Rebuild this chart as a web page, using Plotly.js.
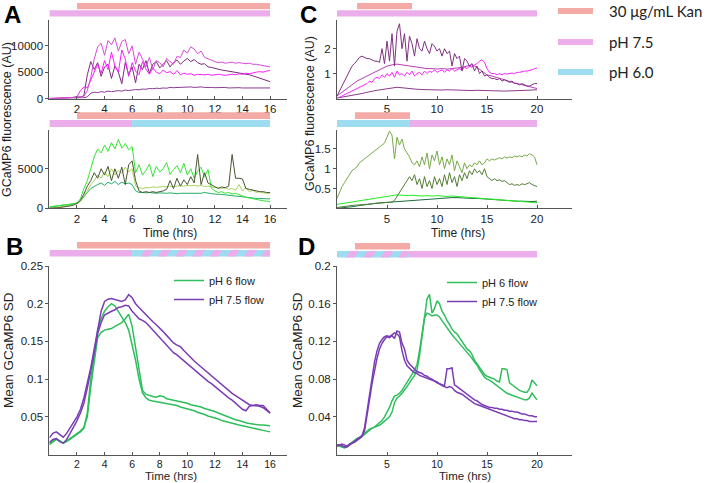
<!DOCTYPE html>
<html><head><meta charset="utf-8">
<script src="https://cdn.plot.ly/plotly-3.0.1.min.js"></script>
<style>html,body{margin:0;padding:0;background:#fff}#chart{width:708px;height:483px}</style>
</head><body><div id="chart"></div>
<script>
function seq(start, step, n){ return Array.from({length:n}, (_, i) => +(start + i*step).toFixed(3)); }

// ---------- time axes (hrs) ----------
const tA  = seq(0, 0.25, 65);   // 0..16
const tB  = seq(0, 0.25, 65);   // 0..16
const tC4 = seq(0, 0.25, 81);   // 0..20
const tC2 = seq(0, 0.5, 41);    // 0..20
const tD  = seq(0, 0.25, 81);   // 0..20

// ---------- tick labels ----------
const xTicksA = [2,4,6,8,10,12,14,16];
const xTicksC = [5,10,15,20];
const yTicksATop = [0,5000,10000];
const yTicksABot = [0,5000];
const yTicksB = [0.05,0.1,0.15,0.2,0.25];
const yTicksCTop = [1,2];
const yTicksCBot = [0.5,1,1.5];
const yTicksD = [0.04,0.08,0.12,0.16,0.2];

// ---------- treatment intervals (hrs) ----------
const kanATop = [2,16], ph75ATop = [0,16];
const kanABot = [2,16], ph75ABot = [0,6], ph6ABot = [6,16];
const kanB = [2,16], ph75B = [0,6], altB = [6,16];
const kanCTop = [2,7.5], ph75CTop = [0,20];
const kanCBot = [1.8,7.3], ph6CBot = [0,7.3], ph75CBot = [7.3,20];
const kanD = [1.8,7.3], altD = [0,7.3], ph75D = [7.3,20];

// ---------- legend labels ----------
const keyLabels = ['30 μg/mL Kan', 'pH 7.5', 'pH 6.0'];
const seriesNames = ['pH 6 flow', 'pH 7.5 flow'];

// ---------- A top: pH 7.5 fluorescence (AU) ----------
const aTopM1 = [0,0,0,50,80,100,150,200,250,300,400,
 1500,4000,7500,9800,10500,8200,11000,10200,11500,9000,10800,11200,8500,10000,6500,8800,7500,6000,7800,5500,7200,6800,6000,7600,7000,6500,8000,7800,9200,8600,9800,9400,8500,9000,7800,7600,7300,7000,
 6800,6900,6700,6800,6900,6700,6800,6700,6600,6700,6500,6500,6400,6300,6200,6000];
const aTopM2 = [0,0,0,0,50,100,150,200,300,
 1500,2200,2000,3500,5200,6500,4800,7200,5500,8800,6200,5000,9200,7500,4200,6800,5200,4500,7000,5600,4600,5800,5000,4700,5400,4900,5100,4600,5300,4500,4800,4600,4700,4400,4600,4500,
 4500,4600,4400,4500,4600,4500,4400,4500,4600,4500,4700,4600,4800,4700,4900,5000,5100,5000,5200,5300];
const aTopP1 = [0,0,0,0,50,100,150,200,250,300,500,
 4500,7000,5500,6800,4200,6000,6500,3800,6200,5000,2800,6800,4500,6000,3000,6500,5500,7200,4800,6500,7000,5800,6600,7200,6000,6800,7300,6500,7100,7600,7000,7400,6800,6500,6600,6000,5900,5700,
 5500,5400,5300,5200,5100,5000,4900,4800,4700,4500,4300,4100,3900,3700,3400,3200];
const aTopP2 = [0,0,0,0,0,20,40,60,80,100,150,300,
 1000,1200,1100,1300,1200,1400,1300,1400,1500,1400,1600,1500,1600,
 1700,1650,1800,1750,1900,1850,1950,1900,2000,1950,2100,2050,2100,2150,2200,2150,2200,2100,2150,2200,2100,2150,2100,2050,2100,2050,2100,2000,2050,2000,2050,2000,2050,2000,2000,1950,2000,2000,1950,2000];

// ---------- A bottom: pH 6 fluorescence (AU) ----------
const aBotG1 = [200,250,300,350,400,450,500,550,700,
 1200,2500,3500,5000,6500,7500,7000,8000,7200,8300,7500,8700,7600,8200,7400,7800,
 4500,5500,4200,4800,5600,4000,5300,4600,5000,5800,4300,4900,5400,4500,5700,4200,5000,3800,4700,5200,4000,4900,2500,2200,2000,2100,1900,2000,1800,1900,1700,1600,
 1400,1300,1200,1100,1000,950,900,850];
const aBotG2 = [0,50,100,150,200,300,400,500,600,900,
 1500,2200,3000,3500,4200,3800,4600,4000,5000,4200,4800,4400,5200,4600,5000,
 2800,2600,2500,2600,
 2600,2700,2650,2700,2750,2700,2800,2750,2800,2850,2800,2900,2850,2900,2800,2900,2750,2800,2700,2600,2650,2500,2600,2400,2500,2300,3000,2200,2600,2100,2300,2000,2100,1950,1900,1900];
const aBotG3 = [0,0,50,100,150,200,300,400,600,1000,1800,
 2800,3500,4500,3800,5000,4200,5300,3500,5000,3800,5200,3000,5500,6000,
 3500,2200,2000,2100,2000,2100,2000,2100,2200,2400,3500,2500,3800,2800,3600,3000,4000,3200,6800,3000,4500,3200,3000,2800,2500,2700,2600,2800,6800,3800,3800,3700,2500,2400,2300,2200,2100,2100,2000,2000];
const aBotG4 = [100,200,300,350,400,450,500,550,650,900,
 1500,2000,2500,2800,3000,3200,2900,3300,3100,3400,3000,3300,3100,3200,3000,2200,
 2000,2000,1950,2000,1950,1900,1950,1900,1900,1950,1900,1850,1900,1900,1850,1900,1850,1900,1900,2000,1900,1850,1800,1800,1750,1700,1650,1600,1500,1450,1400,1350,1300,1300,1250,1250,1200,1200,1200];

// ---------- B: mean GCaMP6 SD ----------
const bGreen1 = [0.013,0.016,0.020,0.018, 0.015,0.017,0.020,0.023, 0.027,0.030,0.035,0.055, 0.100,0.135,0.165,0.180,
 0.190,0.196,0.200,0.197, 0.190,0.183,0.175,0.165, 0.145,0.125,0.100,0.082, 0.075,0.072,0.071,0.070,
 0.070,0.069,0.068,0.067, 0.066,0.065,0.063,0.062, 0.060,0.059,0.058,0.056, 0.055,0.053,0.051,0.050,
 0.048,0.047,0.045,0.044, 0.042,0.041,0.040,0.039, 0.038,0.037,0.036,0.035, 0.035,0.034,0.032,0.031, 0.030];
const bGreen2 = [0.015,0.018,0.021,0.018, 0.015,0.018,0.021,0.024, 0.028,0.031,0.036,0.050, 0.090,0.125,0.155,0.162,
 0.165,0.166,0.167,0.170, 0.172,0.175,0.180,0.186, 0.170,0.140,0.110,0.085, 0.080,0.078,0.077,0.076,
 0.078,0.077,0.074,0.073, 0.072,0.071,0.070,0.069, 0.068,0.066,0.065,0.064, 0.063,0.061,0.060,0.059,
 0.057,0.055,0.053,0.052, 0.050,0.048,0.046,0.045, 0.043,0.042,0.041,0.040, 0.040,0.039,0.039,0.038, 0.038];
const bPurple1 = [0.022,0.028,0.030,0.026, 0.023,0.028,0.035,0.042, 0.050,0.060,0.075,0.095, 0.115,0.140,0.165,0.190,
 0.203,0.206,0.207,0.206, 0.205,0.203,0.205,0.212, 0.208,0.200,0.195,0.190, 0.185,0.180,0.176,0.172,
 0.168,0.163,0.158,0.153, 0.148,0.145,0.143,0.138, 0.133,0.128,0.124,0.120, 0.116,0.113,0.108,0.104,
 0.100,0.096,0.092,0.088, 0.085,0.081,0.078,0.075, 0.072,0.068,0.066,0.065, 0.065,0.064,0.062,0.058, 0.055];
const bPurple2 = [0.016,0.020,0.021,0.017, 0.015,0.020,0.028,0.036, 0.045,0.055,0.068,0.088, 0.110,0.135,0.160,0.175,
 0.185,0.188,0.190,0.192, 0.195,0.196,0.198,0.197, 0.190,0.185,0.180,0.178, 0.175,0.170,0.165,0.160,
 0.155,0.150,0.146,0.140, 0.135,0.132,0.128,0.124, 0.120,0.116,0.112,0.108, 0.105,0.101,0.097,0.094,
 0.090,0.086,0.082,0.079, 0.075,0.072,0.068,0.064, 0.060,0.058,0.064,0.065, 0.066,0.065,0.065,0.060, 0.055];

// ---------- C top: pH 7.5 fluorescence (AU) ----------
const cTopP1 = [0.1,0.3,0.5,0.7, 0.9,1.1,1.3,1.4, 1.55,1.65,1.7,1.65, 1.6,1.6,1.55,1.5, 1.5,1.45,2.0,1.4,
 2.3,1.5,2.6,1.3, 2.7,3.0,2.0,2.6, 1.5,2.5,2.2,1.7, 2.4,2.0,1.9,2.3, 2.0,1.8,2.2,2.1, 1.9,2.0,1.7,2.0,
 1.8,1.9,1.3,1.8, 1.6,1.7,1.1,1.6, 1.5,1.3,1.4,1.1, 1.3,1.0,1.1,0.9, 0.95,0.85,0.8,0.8, 0.75,0.8,0.7,0.75,
 0.7,0.65,0.7,0.6, 0.6,0.55,0.6,0.55, 0.5,0.5,0.55,0.6, 0.6];
const cTopM = [0.0,0.05,0.1,0.15,0.2, 0.25,0.3,0.35,0.4, 0.45,0.5,0.55,0.6, 0.7,0.65,0.8,0.85, 0.8,0.95,0.85,1.0,
 0.9,1.05,0.85,1.1, 0.95,1.0,0.9,1.05, 0.95,1.1,0.9,1.0, 1.05,0.95,1.1,1.0, 1.1,1.05,1.15,1.05,
 1.1,1.15,1.05,1.15, 1.1,1.2,1.1,1.15, 1.2,1.15,1.25,1.2, 1.3,1.25,1.35,1.4, 1.5,1.55,1.45,1.2,
 1.05,1.0,1.0,0.95, 1.0,0.95,1.0,0.98, 1.0,1.02,1.0,1.05, 1.05,1.08,1.1,1.1, 1.12,1.15,1.2,1.22];
const cTopP2 = [0.1,0.25,0.4,0.55,0.7,0.8,0.9,1.0,1.1,1.2,1.3,1.35,1.38,1.35,1.32,1.3,1.25,1.22,1.2,1.2,
 1.18,1.2,1.18,1.2,1.22,1.25,1.3,1.35,1.25,1.1,0.95,0.9,0.85,0.8,0.72,0.65,0.6,0.55,0.5,0.45,0.4];
const cTopL = [0.02,0.05,0.08,0.12,0.15,0.2,0.25,0.3,0.33,0.36,0.4,0.42,0.45,0.43,0.4,0.38,0.37,0.36,0.35,0.36,
 0.35,0.34,0.35,0.34,0.33,0.34,0.33,0.32,0.33,0.32,0.32,0.31,0.3,0.3,0.3,0.3,0.31,0.32,0.33,0.34,0.35];

// ---------- C bottom: pH 6 fluorescence (AU) ----------
const cBotG1 = [0.25,0.4,0.55,0.65, 0.75,0.85,0.95,1.0, 1.05,1.15,1.2,1.25, 1.3,1.35,1.4,1.45, 1.5,1.55,1.6,1.65,
 1.8,1.95,1.85,1.25, 1.8,1.6,1.75,1.5, 1.4,1.3,1.15,1.1, 1.2,1.05,1.3,1.1, 1.4,1.0,1.35,1.2, 1.45,1.1,1.3,1.0,
 1.25,1.1,1.35,0.95, 1.2,1.05,0.9,1.15, 1.0,1.1,1.05,1.15, 1.1,1.2,1.1,1.15, 1.25,1.2,1.25,1.22,
 1.25,1.28,1.25,1.3, 1.27,1.3,1.28,1.32, 1.3,1.33,1.3,1.35, 1.32,1.38,1.35,1.3, 1.1];
const cBotG2 = [0.02,0.03,0.04,0.05,0.05,0.06,0.07,0.08,0.08,0.09,0.1,0.1,0.1,0.11,0.12,0.12,0.13,0.13,0.14,0.14,0.15,
 0.15,0.16,0.2, 0.3,0.4,0.5,0.62, 0.72,0.8,0.7,0.85, 0.6,0.75,0.5,0.8, 0.55,0.7,0.5,0.8, 0.6,0.75,0.55,0.85,
 0.6,0.9,0.65,0.8, 0.55,0.85,0.7,0.9, 0.75,0.95,0.85,1.0, 0.9,0.95,0.85,1.0, 0.8,0.75,0.7,0.75,
 0.7,0.72,0.68,0.7, 0.65,0.6,0.62,0.58, 0.6,0.58,0.62,0.6, 0.62,0.65,0.6,0.58, 0.55];
const cBotG3 = [0.1,0.12,0.14,0.16,0.18,0.2,0.22,0.24,0.26,0.28,0.3,0.32,0.34,0.33,0.32,0.33,0.32,0.31,0.32,0.31,
 0.32,0.31,0.3,0.31,0.3,0.28,0.27,0.26,0.26,0.25,0.24,0.23,0.22,0.21,0.2,0.19,0.18,0.17,0.16,0.15,0.14];
const cBotG4 = [0.0,0.01,0.02,0.04,0.06,0.08,0.1,0.12,0.13,0.14,0.15,0.16,0.17,0.18,0.19,0.2,0.21,0.22,0.23,0.24,
 0.25,0.26,0.26,0.27,0.27,0.26,0.26,0.25,0.25,0.24,0.23,0.22,0.21,0.2,0.2,0.19,0.18,0.18,0.17,0.17,0.18];

// ---------- D: mean GCaMP6 SD ----------
const dGreen1 = [0.010,0.010,0.009,0.008, 0.009,0.011,0.013,0.015, 0.017,0.018,0.020,0.022, 0.025,0.027,0.028,0.029,
 0.030,0.031,0.033,0.035, 0.037,0.040,0.045,0.055, 0.060,0.062,0.065,0.068, 0.072,0.076,0.080,0.084,
 0.090,0.105,0.125,0.148, 0.165,0.170,0.150,0.155, 0.163,0.160,0.152,0.148, 0.142,0.138,0.133,0.130,
 0.128,0.124,0.120,0.116, 0.112,0.110,0.106,0.100, 0.096,0.092,0.088,0.085, 0.083,0.082,0.081,0.080,
 0.078,0.077,0.091,0.091, 0.090,0.076,0.074,0.072, 0.070,0.068,0.067,0.066, 0.066,0.070,0.079,0.076, 0.073];
const dGreen2 = [0.009,0.009,0.008,0.007, 0.008,0.010,0.012,0.014, 0.016,0.017,0.019,0.021, 0.024,0.026,0.028,0.029,
 0.031,0.033,0.036,0.040, 0.045,0.050,0.057,0.062, 0.063,0.065,0.068,0.072, 0.076,0.080,0.085,0.090,
 0.095,0.110,0.130,0.145, 0.150,0.149,0.147,0.148, 0.148,0.146,0.142,0.138, 0.134,0.130,0.127,0.124,
 0.121,0.118,0.115,0.112, 0.109,0.106,0.102,0.098, 0.095,0.090,0.086,0.082, 0.080,0.079,0.077,0.075,
 0.073,0.071,0.069,0.067, 0.065,0.064,0.063,0.062, 0.061,0.060,0.059,0.058, 0.058,0.060,0.065,0.062, 0.058];
const dPurple1 = [0.010,0.010,0.011,0.010, 0.009,0.011,0.012,0.013, 0.015,0.017,0.019,0.025, 0.040,0.058,0.075,0.090,
 0.102,0.112,0.118,0.122, 0.125,0.124,0.126,0.123, 0.131,0.130,0.118,0.112, 0.100,0.096,0.093,0.091,
 0.088,0.087,0.086,0.084, 0.083,0.081,0.080,0.078, 0.077,0.075,0.074,0.073, 0.091,0.091,0.092,0.074,
 0.072,0.070,0.068,0.066, 0.064,0.062,0.060,0.058, 0.057,0.055,0.053,0.052, 0.051,0.050,0.050,0.049,
 0.049,0.048,0.048,0.047, 0.047,0.046,0.046,0.045, 0.045,0.044,0.043,0.043, 0.042,0.041,0.041,0.040, 0.040];
const dPurple2 = [0.009,0.010,0.009,0.008, 0.008,0.010,0.012,0.014, 0.016,0.018,0.020,0.028, 0.045,0.065,0.082,0.098,
 0.110,0.118,0.122,0.125, 0.126,0.125,0.127,0.129, 0.128,0.125,0.110,0.100, 0.094,0.091,0.089,0.087,
 0.086,0.084,0.083,0.082, 0.081,0.080,0.079,0.078, 0.076,0.075,0.073,0.072, 0.071,0.072,0.071,0.068,
 0.066,0.065,0.064,0.062, 0.060,0.058,0.056,0.054, 0.053,0.052,0.051,0.050, 0.049,0.048,0.047,0.046,
 0.045,0.044,0.043,0.042, 0.041,0.040,0.039,0.038, 0.038,0.037,0.037,0.036, 0.036,0.035,0.035,0.035, 0.035];

// ================= styling / layout =================
const W = 708, H = 483;
const fx = p => p / W, fy = p => 1 - p / H;
const FONT = 'Arial';
const C_KAN = '#F4AAA6', C_P75 = '#ECAEEA', C_P6 = '#9EDCF2';
const C_GREEN = '#2EBE5C', C_PURPLE = '#7A3DB6';

const col1 = [fx(49.4), fx(287)], col2 = [fx(337), fx(572)];
const row1 = [fy(98.5), fy(20)], row2 = [fy(208.3), fy(130)], row3 = [fy(454.5), fy(266)];
const xr1 = [0, (287 - 49.4) / 13.79], xr2 = [0, (572 - 337) / 10.0];

function xa(dom, range, tv, anchor, fs) {
  return {domain: dom, range: range, tickvals: tv, ticktext: tv.map(String), anchor: anchor,
    ticks: 'inside', ticklen: 3, tickcolor: '#555', showline: true, linecolor: '#555', linewidth: 1,
    showgrid: false, zeroline: false, fixedrange: true,
    tickfont: {family: FONT, size: fs || 11.5, color: '#222'}};
}
function ya(dom, range, tv, anchor) {
  return {domain: dom, range: range, tickvals: tv, ticktext: tv.map(String), anchor: anchor,
    ticks: 'outside', ticklen: 3, tickcolor: '#555', showline: true, linecolor: '#555', linewidth: 1,
    showgrid: false, zeroline: false, fixedrange: true,
    tickfont: {family: FONT, size: 11.5, color: '#222'}};
}

function ln(x, y, xa_, ya_, color, width, extra) {
  return Object.assign({x: x, y: y, xaxis: xa_, yaxis: ya_, type: 'scatter', mode: 'lines',
    line: {color: color, width: width}, showlegend: false, hoverinfo: 'skip'}, extra || {});
}

const data = [
  // A top
  ln(tA, aTopP2, 'x', 'y', '#8A3C94', 1),
  ln(tA, aTopP1, 'x', 'y', '#7A2C7A', 1),
  ln(tA, aTopM2, 'x', 'y', '#FF1CFF', 1),
  ln(tA, aTopM1, 'x', 'y', '#D84AD8', 1),
  // A bottom
  ln(tA, aBotG4, 'x2', 'y2', '#22AE66', 1),
  ln(tA, aBotG2, 'x2', 'y2', '#A6D45A', 1),
  ln(tA, aBotG1, 'x2', 'y2', '#33E633', 1),
  ln(tA, aBotG3, 'x2', 'y2', '#4A5532', 1),
  // B
  ln(tB, bGreen1, 'x3', 'y3', C_GREEN, 1.5, {showlegend: true, name: seriesNames[0], legend: 'legend'}),
  ln(tB, bGreen2, 'x3', 'y3', C_GREEN, 1.5),
  ln(tB, bPurple1, 'x3', 'y3', C_PURPLE, 1.5, {showlegend: true, name: seriesNames[1], legend: 'legend'}),
  ln(tB, bPurple2, 'x3', 'y3', C_PURPLE, 1.5),
  // C top
  ln(tC2, cTopL, 'x4', 'y4', '#8A3C8A', 1),
  ln(tC2, cTopP2, 'x4', 'y4', '#B83CB8', 1),
  ln(tC4, cTopM, 'x4', 'y4', '#FF22FF', 1),
  ln(tC4, cTopP1, 'x4', 'y4', '#7E327E', 1),
  // C bottom
  ln(tC2, cBotG4, 'x5', 'y5', '#1F6E3E', 1),
  ln(tC2, cBotG3, 'x5', 'y5', '#22EE22', 1),
  ln(tC4, cBotG2, 'x5', 'y5', '#537E34', 1),
  ln(tC4, cBotG1, 'x5', 'y5', '#78A84A', 1),
  // D
  ln(tD, dGreen1, 'x6', 'y6', C_GREEN, 1.5, {showlegend: true, name: seriesNames[0], legend: 'legend2'}),
  ln(tD, dGreen2, 'x6', 'y6', C_GREEN, 1.5),
  ln(tD, dPurple1, 'x6', 'y6', C_PURPLE, 1.5, {showlegend: true, name: seriesNames[1], legend: 'legend2'}),
  ln(tD, dPurple2, 'x6', 'y6', C_PURPLE, 1.5)
];

// ---------- treatment bars ----------
const shapes = [];
function bar(xref, iv, yPx, color) {
  shapes.push({type: 'rect', xref: xref, yref: 'paper', x0: iv[0], x1: iv[1], y0: fy(yPx[1]), y1: fy(yPx[0]),
    fillcolor: color, line: {width: 0}, layer: 'above'});
}
function stripes(xref, iv, yPx, period, slant) {
  bar(xref, iv, yPx, C_P6);
  const cl = v => Math.min(Math.max(v, iv[0]), iv[1]);
  const yb = fy(yPx[1]), yt = fy(yPx[0]);
  for (let s = iv[0]; s < iv[1]; s += period) {
    const a = s + period / 2, b = s + period;
    const p = 'M' + cl(a) + ',' + yb + ' L' + cl(b) + ',' + yb + ' L' + cl(b + slant) + ',' + yt + ' L' + cl(a + slant) + ',' + yt + ' Z';
    shapes.push({type: 'path', xref: xref, yref: 'paper', path: p, fillcolor: C_P75, line: {width: 0}, layer: 'above'});
  }
}
const r1k = [3, 9.3], r1p = [10.3, 16.5], r2k = [112.3, 119], r2p = [120, 127], r3k = [242, 248.5], r3p = [250, 256.5];
bar('x', kanATop, r1k, C_KAN); bar('x', ph75ATop, r1p, C_P75);
bar('x2', kanABot, r2k, C_KAN); bar('x2', ph75ABot, r2p, C_P75); bar('x2', ph6ABot, r2p, C_P6);
bar('x3', kanB, r3k, C_KAN); bar('x3', ph75B, r3p, C_P75); stripes('x3', altB, r3p, 1.25, 0.28);
bar('x4', kanCTop, r1k, C_KAN); bar('x4', ph75CTop, r1p, C_P75);
bar('x5', kanCBot, r2k, C_KAN); bar('x5', ph6CBot, r2p, C_P6); bar('x5', ph75CBot, r2p, C_P75);
bar('x6', kanD, [243, 249.5], C_KAN); stripes('x6', altD, [251, 257.5], 1.75, 0.4); bar('x6', ph75D, [251, 257.5], C_P75);

// top-right key
const keyColors = [C_KAN, C_P75, C_P6];
const keyY = [11, 42, 72];
const annotations = [];
keyLabels.forEach((lab, i) => {
  shapes.push({type: 'rect', xref: 'paper', yref: 'paper', x0: fx(558), x1: fx(593), y0: fy(keyY[i] + 3), y1: fy(keyY[i] - 3),
    fillcolor: keyColors[i], line: {width: 0}});
  annotations.push({text: lab, xref: 'paper', yref: 'paper', x: fx(607), y: fy(keyY[i]), xanchor: 'left', yanchor: 'middle',
    showarrow: false, font: {family: 'Lato', size: 15, color: '#222'}});
});

function txt(t, xp, yp, size, extra) {
  annotations.push(Object.assign({text: t, xref: 'paper', yref: 'paper', x: fx(xp), y: fy(yp), xanchor: 'center', yanchor: 'middle',
    showarrow: false, font: {family: FONT, size: size, color: '#222'}}, extra || {}));
}
// panel letters
const letterFont = {family: FONT, size: 24, color: '#000'};
txt('<b>A</b>', 3, 0, 24, {xanchor: 'left', yanchor: 'top', borderpad: 0, font: letterFont});
txt('<b>B</b>', 5, 232, 24, {xanchor: 'left', yanchor: 'top', borderpad: 0, font: letterFont});
txt('<b>C</b>', 299, 0, 24, {xanchor: 'left', yanchor: 'top', borderpad: 0, font: letterFont});
txt('<b>D</b>', 297, 232, 24, {xanchor: 'left', yanchor: 'top', borderpad: 0, font: letterFont});
// axis titles
txt('GCaMP6 fluorescence (AU)', 7, 120, 12.5, {textangle: -90});
txt('GCaMP6 fluorescence (AU)', 310, 114, 12.5, {textangle: -90});
txt('Mean GCaMP6 SD', 8, 350, 13.5, {textangle: -90});
txt('Mean GCaMP6 SD', 297, 350, 13.5, {textangle: -90});
txt('Time (hrs)', 170, 232.5, 12);
txt('Time (hrs)', 458, 232.5, 12);
txt('Time (hrs)', 171, 483, 11.5, {yanchor: 'bottom', borderpad: 0});
txt('Time (hrs)', 465, 483, 11.5, {yanchor: 'bottom', borderpad: 0});

const legendStyle = (xp, yp) => ({x: fx(xp), y: fy(yp), xanchor: 'left', yanchor: 'top', bgcolor: 'rgba(0,0,0,0)',
  borderwidth: 0, font: {family: FONT, size: 11, color: '#222'}, itemwidth: 30, tracegroupgap: 0});

const layout = {
  width: W, height: H, margin: {l: 0, r: 0, t: 0, b: 0}, paper_bgcolor: '#fff', plot_bgcolor: 'rgba(0,0,0,0)',
  showlegend: true,
  legend: legendStyle(169, 266),
  legend2: legendStyle(442, 268),
  xaxis: xa(col1, xr1, xTicksA, 'y'),   yaxis: ya(row1, [0, 14900], yTicksATop, 'x'),
  xaxis2: xa(col1, xr1, xTicksA, 'y2'), yaxis2: ya(row2, [0, 9900], yTicksABot, 'x2'),
  xaxis3: xa(col1, xr1, xTicksA, 'y3', 10.5), yaxis3: ya(row3, [0, 0.25], yTicksB, 'x3'),
  xaxis4: xa(col2, xr2, xTicksC, 'y4'), yaxis4: ya(row1, [0, 3.15], yTicksCTop, 'x4'),
  xaxis5: xa(col2, xr2, xTicksC, 'y5'), yaxis5: ya(row2, [0, 1.98], yTicksCBot, 'x5'),
  xaxis6: xa(col2, xr2, xTicksC, 'y6', 10.5), yaxis6: ya(row3, [0, 0.2], yTicksD, 'x6'),
  shapes: shapes, annotations: annotations
};

Plotly.newPlot('chart', data, layout, {displayModeBar: false, staticPlot: true});
</script></body></html>
